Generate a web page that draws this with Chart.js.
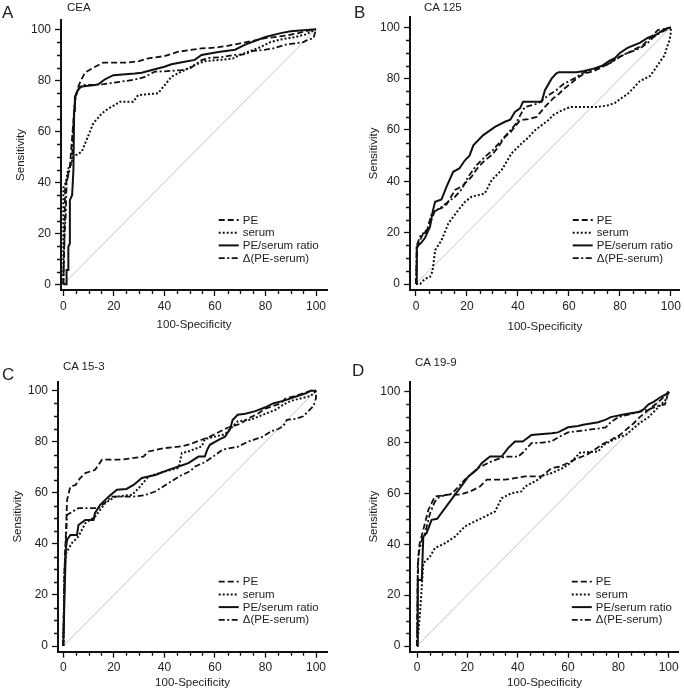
<!DOCTYPE html>
<html>
<head>
<meta charset="utf-8">
<script src="https://cdn.jsdelivr.net/npm/chart.js@4.4.0/dist/chart.umd.min.js"></script>
<style>
  body { margin: 0; background: #fff; }
  #wrap { position: relative; width: 684px; height: 694px; font-family: "Liberation Sans", Arial, sans-serif; color: #222; }
  .panel { position: absolute; }
  .letter { position: absolute; font-size: 17px; line-height: 1; }
  .marker { position: absolute; font-size: 11.5px; line-height: 1; }
</style>
</head>
<body>
<div id="wrap"></div>
<script>
// series names, panel names, ticks
const seriesNames = ['PE', 'serum', 'PE/serum ratio', 'Δ(PE-serum)'];
const panelTitles = ['CEA', 'CA 125', 'CA 15-3', 'CA 19-9'];
const panelLetters = ['A', 'B', 'C', 'D'];
const axisTicks = [0, 20, 40, 60, 80, 100];
const minorTicks = [5, 10, 15, 25, 30, 35, 45, 50, 55, 65, 70, 75, 85, 90, 95];
const chanceLine = [[0, 0], [100, 100]];

// A - CEA  ([100-specificity, sensitivity])
const ceaPE = [[0,0],[0.5,20],[0.7,38],[2.6,46],[4.6,72],[5.9,77.5],[7,80],[8.6,83],[12,85],[15.8,86.9],[25,86.9],[30,87.5],[33.6,88.6],[40,89.5],[45.5,91.2],[54.7,92.5],[60,92.8],[65,93.5],[70,94.5],[75,95.5],[80,96.5],[88,97.5],[93,98.5],[96,99.3],[100,100]];
const ceaSerum = [[0,0],[0,37.7],[1,40],[2,45.5],[3,47],[4,50],[7.3,52],[9.2,56.6],[11.9,63.2],[13.5,65],[15.2,67],[18,69],[20.4,70.3],[22.4,71.6],[27.7,71.6],[29.6,74.2],[37.5,74.9],[40.2,78.2],[42.8,81.4],[46,83],[52,86],[56,87.5],[62,88],[67,88.5],[70,90],[74,91.5],[78,93],[82,95],[86,96],[92,97],[96,98],[100,100]];
const ceaRatio = [[0,0],[1.3,0],[1.3,5.6],[2,5.6],[2,14.7],[2.6,16],[2.6,33],[3.5,35],[4,44.8],[4.3,68],[4.6,73.6],[5.5,75.5],[6.6,77.5],[12.5,78.2],[14,78.5],[16.5,80.4],[19.8,82],[28.3,82.7],[31,83],[36.2,84.3],[40,85.3],[42.8,86.3],[48,87.3],[52,88],[54.7,89.9],[58,90.5],[62,91.2],[68,92],[70,93],[72,94],[76,95.5],[80,97],[86,98.5],[90,99.2],[100,100]];
const ceaDelta = [[0,0],[0.5,20],[1,28],[1.3,40],[2.5,45],[3.5,50],[4.3,70],[5.5,76],[7.9,78.2],[12,78.2],[16,78.5],[23,79.5],[28,80.2],[32,81.2],[36.2,83.4],[40,83.5],[46.8,84],[50,84.5],[52,86],[55,88],[58,88.8],[62,89],[68,90],[72,90.2],[75,91.5],[80,92],[83,92.5],[88,94],[92,94.5],[95,95],[97,96],[99,96.5],[100,100]];

// B - CA 125
const ca125PE = [[0,0],[0.5,14],[1.5,17],[2.9,19.7],[5,22],[7.5,28.8],[10,29.5],[12,31],[15.3,36.6],[18,38],[21.8,41.8],[24,45],[27,48.2],[29.7,50.2],[32.3,53.4],[34.9,57.3],[37,59],[40.8,63.8],[44,64.2],[47.3,65.1],[50.6,69],[53.8,72.3],[56,74],[58,76],[60,77.5],[63,80],[66,82],[70,83],[73,84.5],[76,86],[78,87.5],[80,88.5],[83,90],[86,91.5],[89,93],[91,95],[93,97],[95,99],[98,99.5],[100,100]];
const ca125Serum = [[0,0],[1.6,0],[3.5,2],[5.5,2.8],[6.5,5],[7.5,13.2],[10,17],[12.7,23.6],[14.5,26],[16.6,28.8],[19.2,32],[21.8,34],[27,35.3],[29.7,40.5],[33.6,44.4],[37.5,50.9],[41.4,54.7],[44,57],[46.7,59.9],[51.9,63.8],[53.8,65.8],[57,67.5],[60.4,68.9],[65,69],[71,69],[75,69.5],[78,70.5],[80,72],[83,74],[85,76],[87.8,79],[91.8,81],[94,84],[96,87],[97.5,89],[98.4,92],[99.5,95],[100,98],[100,100]];
const ca125Ratio = [[0,0],[0.3,0.4],[0.3,14.5],[2,16],[3.5,17.9],[5.5,22.3],[6.5,28],[7.5,32],[10,32.9],[12,37.9],[14.6,43.7],[17,45],[19.2,48.2],[21,50],[22.5,54],[26.4,58],[31,61.2],[34.9,63.2],[37,64],[38.8,67],[40.8,68.4],[42,71],[49.3,71],[50.6,75.5],[53.2,80],[55,82],[56,82.5],[63,82.5],[66,83],[70,84],[73,85],[76,87],[78,88],[80,90],[83,92],[88,94],[91,96],[94,97],[97,99],[100,100]];
const ca125Delta = [[0,0],[0.3,15],[2,19.5],[4,20],[6.2,27.5],[10,30],[15.3,34],[18,37],[20.5,41.8],[23.8,46.3],[27,49.5],[30,52],[33.6,56],[38.8,61.9],[40.5,65],[42.7,69],[48,70.3],[51.9,73.5],[55,75.5],[58,78],[62,80],[65,82],[68,83],[71,84],[74,85],[77,86.5],[80,88.5],[83,90],[86,91],[89,92.5],[91,94],[93,96],[96,98],[98,99],[100,100]];

// C - CA 15-3
const ca153PE = [[0,0],[0.5,30],[1.5,57.3],[2.8,62.5],[4.8,63],[6.7,65.8],[8.7,67.7],[12.6,69],[15.3,73],[23.2,73],[31.7,74.2],[33.7,76.2],[40,77.5],[46.9,78.2],[50,79],[54.8,80.8],[58,82],[62,84],[65,85.5],[70,87],[73,89],[77,91],[80,93],[83,94],[86,95],[88,97],[92,98],[95,99],[98,100],[100,100]];
const ca153Serum = [[0,0],[0.5,30],[1,36],[2,38],[3.4,40.3],[6,42.9],[8.7,48.1],[12.6,50.7],[16.6,56],[20.6,58.5],[27.2,59.2],[30,62],[33.7,66.4],[40.3,68.4],[45.6,69.7],[46.9,75.6],[49.5,76.2],[54.8,78.2],[56,81],[60,82],[64,83],[66,85],[69,88],[74,88.6],[80,91],[84,92.5],[87,94.5],[90,96],[94,97],[98,98],[100,100]];
const ca153Ratio = [[0,0],[0.5,20],[1,38],[1.5,41.6],[2.8,43.5],[5.4,43.5],[6,47.4],[8.7,49.4],[12,49.4],[12.5,52],[14.6,55.3],[17.9,58.5],[21.2,61.2],[25,61.5],[27.8,63.1],[31.1,65.8],[36.4,67],[41.6,69],[45.6,70.3],[49.5,71.6],[53.5,74.2],[56,74.2],[57,77],[58,78.8],[62,81],[64,82],[66,85],[67,88.5],[69,90.6],[72,91],[76,92],[80,93.5],[83,95],[87,96],[90,97],[93,98],[96,99],[98,100],[100,100]];
const ca153Delta = [[0,0],[0.5,30],[1.5,51.4],[6,54],[14,54],[19.2,58.5],[27.2,58.5],[32,59],[36.4,60.5],[41.6,63.8],[46.9,67],[50.2,68.5],[52.2,70.3],[56,72],[59,74],[63,76.9],[66,77.5],[69,78],[73,80],[76,81],[79,82],[82,84],[85,85],[87,86],[88.5,88.6],[92,89],[95,90],[97,92],[99,94],[100,97],[100,100]];

// D - CA 19-9
const ca199PE = [[0,0],[0.5,35],[1,40],[2.5,45.7],[4.5,53.5],[7.1,58.8],[12.4,59.5],[17,59.5],[21,60.7],[25,62.7],[27.7,65.4],[35,65.4],[42.9,66.7],[49.5,66.7],[53.5,70],[56.7,70.5],[60,72],[63,73.5],[67.5,75.2],[71,77.5],[74,79.5],[77,81],[80.6,83],[83,85],[86,87.5],[88.5,90],[91,92],[94,94.5],[96,96],[99,98.8],[100,100]];
const ca199Serum = [[0,0],[0.5,5],[1.2,12.9],[1.9,23.3],[2.5,32.5],[5.2,35.2],[7.1,38.5],[11.1,40.4],[15.1,43],[19,47],[23,49],[27,50.9],[31,52.9],[33.6,58.1],[37.6,60.1],[41.5,60.8],[42.9,62.7],[48.1,65.4],[50,67],[53.5,68],[58,70],[61,72],[64.7,76],[72,76.5],[74,79],[79.4,81.8],[83,83],[88.5,87.7],[92,90],[95,93],[97.6,95.6],[99,97],[100,100]];
const ca199Ratio = [[0,0],[0.3,26],[1.9,26],[2.5,43],[3.8,44.4],[5.8,49.6],[8,50],[19,64.7],[20.4,66.7],[23.7,69.3],[25.7,71.9],[29,74.5],[33.6,74.5],[36.2,77.8],[38.9,80.4],[42,80.4],[45.5,83],[53.5,83.7],[56,84],[58,85],[60,86],[64,86.5],[66,87],[72,88],[75,89],[77,90],[82,91],[88,92],[90,93],[92,95],[94,96],[97,98],[99,99],[100,100]];
const ca199Delta = [[0,0],[0.3,31],[0.8,37],[2,42],[3.2,44.4],[5.2,52.2],[7.1,56.8],[9.1,58.8],[14,60],[19,65.4],[24.3,70],[29.6,72.6],[34.9,74.5],[40.2,74.5],[42,76],[45.5,79.8],[50,80],[53.5,80.5],[56,82],[60,84],[64,84.5],[68,85],[72,85.5],[75,86],[77,88],[80,90],[84,91],[88,92],[92,93],[96,94.5],[98.5,95],[100,100]];

const panelData = [
    [ceaPE, ceaSerum, ceaRatio, ceaDelta],
    [ca125PE, ca125Serum, ca125Ratio, ca125Delta],
    [ca153PE, ca153Serum, ca153Ratio, ca153Delta],
    [ca199PE, ca199Serum, ca199Ratio, ca199Delta],
];

// line styles for PE, serum, ratio, delta
const dashes = [[6, 3], [2, 2], [], [6, 2.5, 2, 2.5]];
const widths = [1.8, 2, 2, 1.8];

// panel geometry (local px): canvas box, axis lines, where 0 and 100 fall
const layouts = [
    { left: 0, top: 0, w: 342, h: 340, axL: 61, axT: 20, axR: 327, axB: 290, x0: 63.3, x100: 316, y0: 284.3, y100: 29.3, yTitle: 14, xTitle: 8,
      letter: [2, 4], title: [67, 2] },
    { left: 342, top: 0, w: 342, h: 340, axL: 68, axT: 17, axR: 338, axB: 290, x0: 74, x100: 329, y0: 284, y100: 27.3, yTitle: 25, xTitle: 6,
      letter: [12, 4], title: [82, 2] },
    { left: 0, top: 340, w: 342, h: 354, axL: 58, axT: 41.7, axR: 327, axB: 311.7, x0: 63.3, x100: 316, y0: 306, y100: 50.7, yTitle: 11, xTitle: 4,
      letter: [2, 26], title: [63, 21] },
    { left: 342, top: 340, w: 342, h: 354, axL: 68.3, axT: 41.7, axR: 336.7, axB: 311.7, x0: 75, x100: 326.7, y0: 306, y100: 51.7, yTitle: 25, xTitle: 4,
      letter: [10, 22], title: [73, 17] },
];

const FONT = '"Liberation Sans", Arial, sans-serif';

const minorTickPlugin = {
    id: 'minorTicks',
    afterDraw(chart) {
        const ctx = chart.ctx;
        const a = chart.chartArea;
        const xs = chart.scales.x, ys = chart.scales.y;
        ctx.save();
        ctx.strokeStyle = '#111';
        ctx.lineWidth = 1.3;
        ctx.setLineDash([]);
        ctx.beginPath();
        minorTicks.forEach(v => {
            const px = Math.round(xs.getPixelForValue(v)) + 0.5;
            ctx.moveTo(px, a.bottom + 1);
            ctx.lineTo(px, a.bottom + 4);
            const py = Math.round(ys.getPixelForValue(v)) + 0.5;
            ctx.moveTo(a.left - 1, py);
            ctx.lineTo(a.left - 4, py);
        });
        ctx.stroke();
        ctx.restore();
    }
};

const lineLegendPlugin = {
    id: 'lineLegend',
    afterDraw(chart) {
        const ctx = chart.ctx;
        const a = chart.chartArea;
        const x = chart.scales.x.getPixelForValue(61.5);
        let y = a.bottom - 70;
        ctx.save();
        ctx.font = '11.5px ' + FONT;
        ctx.textBaseline = 'middle';
        chart.data.datasets.forEach(ds => {
            if (!ds.inLegend) return;
            ctx.strokeStyle = '#111';
            ctx.lineWidth = ds.borderWidth;
            ctx.setLineDash(ds.borderDash || []);
            ctx.beginPath();
            ctx.moveTo(x, y);
            ctx.lineTo(x + 20, y);
            ctx.stroke();
            ctx.fillStyle = '#222';
            ctx.fillText(ds.label, x + 24, y + 0.5);
            y += 12.7;
        });
        ctx.restore();
    }
};

const wrap = document.getElementById('wrap');

layouts.forEach((g, p) => {
    const box = document.createElement('div');
    box.className = 'panel';
    box.style.cssText = `left:${g.left}px;top:${g.top}px;width:${g.w}px;height:${g.h}px`;
    const canvas = document.createElement('canvas');
    box.appendChild(canvas);
    wrap.appendChild(box);

    const letter = document.createElement('div');
    letter.className = 'letter';
    letter.textContent = panelLetters[p];
    letter.style.left = (g.left + g.letter[0]) + 'px';
    letter.style.top = (g.top + g.letter[1]) + 'px';
    wrap.appendChild(letter);

    const title = document.createElement('div');
    title.className = 'marker';
    title.textContent = panelTitles[p];
    title.style.left = (g.left + g.title[0]) + 'px';
    title.style.top = (g.top + g.title[1]) + 'px';
    wrap.appendChild(title);

    const ppx = (g.x100 - g.x0) / 100;
    const ppy = (g.y0 - g.y100) / 100;

    const datasets = panelData[p].map((pts, i) => ({
        label: seriesNames[i],
        data: pts.map(d => ({ x: d[0], y: d[1] })),
        showLine: true,
        borderColor: '#111',
        borderWidth: widths[i],
        borderDash: dashes[i],
        pointRadius: 0,
        tension: 0,
        inLegend: true,
    }));
    datasets.push({
        label: 'reference',
        data: chanceLine.map(d => ({ x: d[0], y: d[1] })),
        showLine: true,
        borderColor: '#bdbdbd',
        borderWidth: 0.9,
        pointRadius: 0,
        inLegend: false,
    });

    new Chart(canvas, {
        type: 'scatter',
        data: { datasets },
        options: {
            responsive: true,
            maintainAspectRatio: false,
            animation: false,
            events: [],
            layout: { padding: { left: 0, top: g.axT, right: g.w - g.axR, bottom: 0 } },
            plugins: { legend: { display: false }, tooltip: { enabled: false }, title: { display: false } },
            scales: {
                x: {
                    type: 'linear',
                    min: (g.axL - g.x0) / ppx,
                    max: (g.axR - g.x0) / ppx,
                    afterFit: s => { s.height = g.h - g.axB; },
                    afterBuildTicks: s => { s.ticks = axisTicks.map(v => ({ value: v })); },
                    grid: { drawOnChartArea: false, tickLength: 6, tickWidth: 1.3, tickColor: '#111' },
                    border: { display: true, width: 2, color: '#111' },
                    ticks: { color: '#222', font: { family: FONT, size: 12 }, padding: 3, maxRotation: 0, autoSkip: false },
                    title: { display: true, text: '100-Specificity', color: '#222', font: { family: FONT, size: 11.5 }, padding: { top: 0, bottom: g.xTitle } }
                },
                y: {
                    type: 'linear',
                    min: -(g.axB - g.y0) / ppy,
                    max: 100 + (g.y100 - g.axT) / ppy,
                    afterFit: s => { s.width = g.axL; },
                    afterBuildTicks: s => { s.ticks = axisTicks.map(v => ({ value: v })); },
                    grid: { drawOnChartArea: false, tickLength: 6, tickWidth: 1.3, tickColor: '#111' },
                    border: { display: true, width: 2, color: '#111' },
                    ticks: { color: '#222', font: { family: FONT, size: 12 }, padding: 4, autoSkip: false },
                    title: { display: true, text: 'Sensitivity', color: '#222', font: { family: FONT, size: 11.5 }, padding: { top: g.yTitle, bottom: 0 } }
                }
            }
        },
        plugins: [minorTickPlugin, lineLegendPlugin]
    });
});
</script>
</body>
</html>
